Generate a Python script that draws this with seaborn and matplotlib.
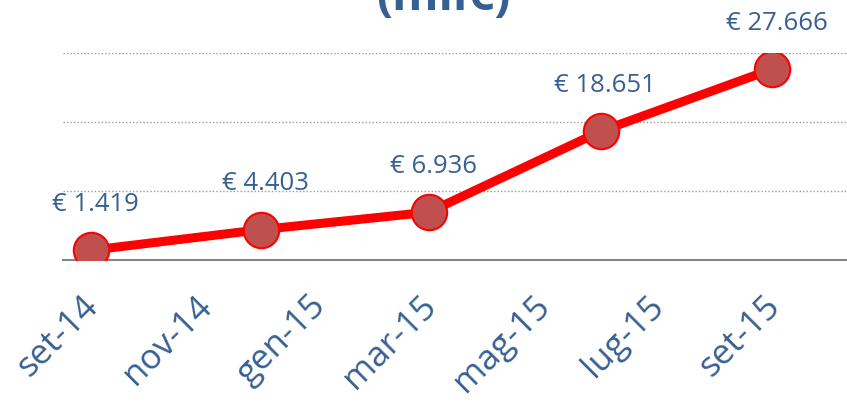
import pandas as pd
import seaborn as sns
import matplotlib.pyplot as plt
import matplotlib.transforms as mtransforms

# values
dates = ['2014-09-01', '2014-12-01', '2015-03-01', '2015-06-01', '2015-09-01']
values = [1419, 4403, 6936, 18651, 27666]
value_labels = ['€ 1.419', '€ 4.403', '€ 6.936', '€ 18.651', '€ 27.666']
tick_dates = ['2014-09-01', '2014-11-01', '2015-01-01', '2015-03-01', '2015-05-01', '2015-07-01', '2015-09-01']
tick_labels = ['set-14', 'nov-14', 'gen-15', 'mar-15', 'mag-15', 'lug-15', 'set-15']
title = '(mil€)'

df = pd.DataFrame({'date': pd.to_datetime(dates), 'value': values})

sns.set_style('white')
plt.rcParams['font.family'] = ['Open Sans', 'DejaVu Sans']
blue = '#376092'

fig = plt.figure(figsize=(8.47, 4.04), dpi=100)
ax = fig.add_axes([0.0744, 0.3564, 0.9256, 0.5124])

sns.lineplot(x='date', y='value', data=df, ax=ax, color='#FF0000', linewidth=6.5,
             marker='o', markersize=25.5, markerfacecolor='#C0504D',
             markeredgecolor='#FF0000', markeredgewidth=1.5, zorder=3)

for d, v, lab in zip(df['date'], df['value'], value_labels):
    ax.annotate(lab, xy=(d, v), xytext=(3, 33), textcoords='offset points',
                ha='center', va='center', fontsize=18.5, color=blue)

ax.set_ylim(0, 30000)
ax.set_yticks([10000, 20000, 30000])
ax.set_yticklabels([])
ax.yaxis.grid(True, color='#999999', linestyle=(0, (1, 1.5)), linewidth=1.0)
ax.set_xlim(pd.Timestamp('2014-08-17'), pd.Timestamp('2015-10-11'))
ax.set_xticks(pd.to_datetime(tick_dates))
ax.set_xticklabels(tick_labels, rotation=45, ha='right', va='top',
                   rotation_mode='anchor', fontsize=25, color=blue)
ax.tick_params(axis='x', length=0, pad=14)
ax.tick_params(axis='y', length=0)
# nudge rotated labels down-left like the original
shift = mtransforms.ScaledTranslation(-7 / 72, -7 / 72, fig.dpi_scale_trans)
for lbl in ax.get_xticklabels():
    lbl.set_transform(lbl.get_transform() + shift)
ax.set_xlabel('')
ax.set_ylabel('')
for s in ['top', 'left', 'right']:
    ax.spines[s].set_visible(False)
ax.spines['bottom'].set_color('#868686')
ax.spines['bottom'].set_linewidth(1.5)

fig.text(0.523, 1 - 10 / 404, title, ha='center', va='baseline',
         fontsize=34, fontweight='bold', color=blue)

fig.savefig('out.png', dpi=100)
